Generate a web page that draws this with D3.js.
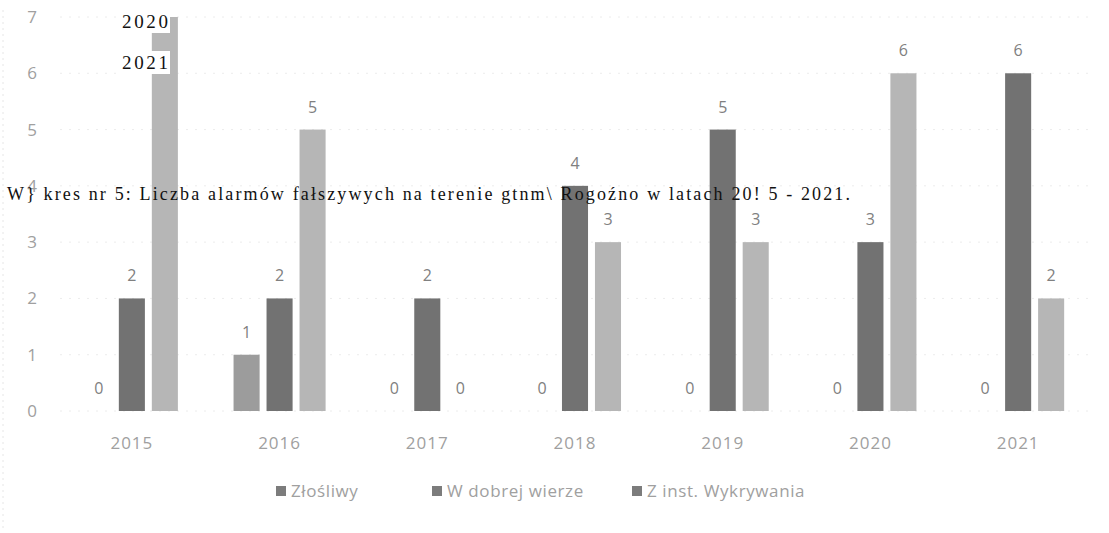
<!DOCTYPE html>
<html>
<head>
<meta charset="utf-8">
<script src="https://cdn.jsdelivr.net/npm/d3@7"></script>
<style>
  body { margin: 0; background: #fff; }
  svg { display: block; }
  .tick-label { font-family: "Open Sans", sans-serif; fill: #a0a0a0; }
  .value-label { font-family: "Open Sans", sans-serif; font-size: 16px; fill: #808080; }
  .ocr { font-family: "Liberation Serif", "Times New Roman", serif; fill: #111; }
</style>
</head>
<body>
<div id="chart"></div>
<script>
// Chart data
const years = ["2015", "2016", "2017", "2018", "2019", "2020", "2021"];
const seriesNames = ["Złośliwy", "W dobrej wierze", "Z inst. Wykrywania"];
const zlosliwy = [0, 1, 0, 0, 0, 0, 0];
const wDobrejWierze = [2, 2, 2, 4, 5, 3, 6];
const zInstWykrywania = [7, 5, 0, 3, 3, 6, 2];
const yTicks = [0, 1, 2, 3, 4, 5, 6, 7];
const seriesColors = ["#9c9c9c", "#727272", "#b6b6b6"];

const seriesValues = [zlosliwy, wDobrejWierze, zInstWykrywania];

const width = 1109, height = 533;

const svg = d3.select("#chart")
  .append("svg")
  .attr("width", width)
  .attr("height", height);

// Scales
const x = d3.scaleBand()
  .domain(years)
  .range([58, 1092])
  .paddingInner(0.33)
  .paddingOuter(0.165);

const xSub = d3.scaleBand()
  .domain(seriesNames)
  .range([0, x.bandwidth()])
  .paddingInner(0.21)
  .paddingOuter(0.105);

const y = d3.scaleLinear()
  .domain([0, 7])
  .range([411, 17]);

// Faint dotted gridlines
svg.append("g")
  .selectAll("line")
  .data(yTicks)
  .enter()
  .append("line")
  .attr("x1", 60)
  .attr("x2", 1090)
  .attr("y1", d => y(d))
  .attr("y2", d => y(d))
  .attr("stroke", "#ececec")
  .attr("stroke-dasharray", "2,7");

// faint scan edge on the left
svg.append("line")
  .attr("x1", 3).attr("x2", 3)
  .attr("y1", 10).attr("y2", 530)
  .attr("stroke", "#e6e6e6")
  .attr("stroke-dasharray", "2,4");

// Y axis labels
const yAxis = svg.append("g")
  .attr("transform", "translate(37,0)")
  .call(d3.axisLeft(y).tickValues(yTicks).tickFormat(d3.format("d")).tickSize(0).tickPadding(0));
yAxis.select(".domain").remove();
yAxis.selectAll("text")
  .attr("class", "tick-label")
  .style("font-size", "17px");

// X axis labels
const xAxis = svg.append("g")
  .attr("transform", "translate(0,431)")
  .call(d3.axisBottom(x).tickSize(0).tickPadding(6));
xAxis.select(".domain").remove();
xAxis.selectAll("text")
  .attr("class", "tick-label")
  .style("font-size", "17px")
  .style("letter-spacing", "1px");

// Flatten data for bars
const barData = [];
years.forEach((yr, i) => {
  seriesNames.forEach((s, j) => {
    barData.push({ year: yr, series: s, value: seriesValues[j][i], idx: j });
  });
});

const groups = svg.append("g");

groups.selectAll(".bar")
  .data(barData.filter(d => d.value > 0))
  .enter()
  .append("rect")
  .attr("class", "bar")
  .attr("x", d => x(d.year) + xSub(d.series))
  .attr("y", d => y(d.value))
  .attr("width", xSub.bandwidth())
  .attr("height", d => y(0) - y(d.value))
  .attr("fill", d => seriesColors[d.idx]);

// value labels (the one above the tallest bar falls off the top of the scan)
groups.selectAll(".value-label")
  .data(barData.filter(d => y(d.value) - 17 > 14))
  .enter()
  .append("text")
  .attr("class", "value-label")
  .attr("text-anchor", "middle")
  .attr("x", d => x(d.year) + xSub(d.series) + xSub.bandwidth() / 2)
  .attr("y", d => y(d.value) - 17)
  .text(d => d.value);

// Legend
const legendX = [276, 432, 632];
const legend = svg.append("g");
seriesNames.forEach((name, i) => {
  legend.append("rect")
    .attr("x", legendX[i])
    .attr("y", 486)
    .attr("width", 10)
    .attr("height", 10)
    .attr("fill", "#7c7c7c");
  legend.append("text")
    .attr("class", "tick-label")
    .attr("x", legendX[i] + 15)
    .attr("y", 497)
    .style("font-size", "17px")
    .style("letter-spacing", "0.6px")
    .text(name);
});

// OCR text overlays from the scanned document
function ocrLabel(txt, x0, yBase, size, boxed, fitWidth) {
  const t = svg.append("text")
    .attr("class", "ocr")
    .attr("x", x0)
    .attr("y", yBase)
    .style("font-size", size + "px")
    .text(txt);
  if (fitWidth) {
    t.attr("textLength", fitWidth).attr("lengthAdjust", "spacing");
  }
  if (boxed) {
    const bb = t.node().getBBox();
    svg.insert("rect", function() { return t.node(); })
      .attr("x", bb.x - 3)
      .attr("y", bb.y - 1)
      .attr("width", bb.width + 5)
      .attr("height", bb.height + 2)
      .attr("fill", "#fff");
  }
  return t;
}

ocrLabel("2020", 122, 28, 19, true, 46);
ocrLabel("2021", 122, 69, 19, true, 46);
ocrLabel("W} kres nr 5: Liczba alarmów fałszywych na terenie gtnm\\ Rogoźno w latach 20! 5 - 2021.", 7, 200, 18, false, 843);
</script>
</body>
</html>
